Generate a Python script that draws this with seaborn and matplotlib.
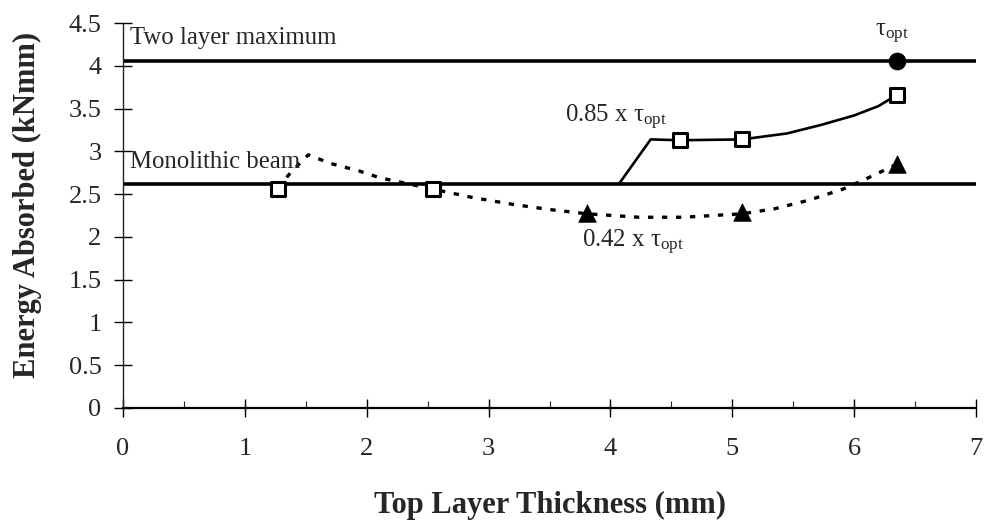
import numpy as np
import pandas as pd
import matplotlib
matplotlib.use("Agg")
import matplotlib.pyplot as plt
import seaborn as sns
from matplotlib.ticker import MultipleLocator

# ---- data ----
two_layer_max = 4.06
monolithic = 2.62

sq_x = [1.27, 2.54, 4.57, 5.08, 6.35]
sq_y = [2.56, 2.56, 3.13, 3.14, 3.66]

tri_x = [3.81, 5.08, 6.35]
tri_y = [2.28, 2.29, 2.85]

opt_x = [6.35]
opt_y = [4.06]

# traced path of the solid 0.85 x tau_opt curve
solid_x = [4.07, 4.33, 4.57, 5.08, 5.45, 5.73, 6.00, 6.20, 6.35]
solid_y = [2.62, 3.14, 3.13, 3.14, 3.21, 3.31, 3.42, 3.53, 3.66]

# traced path of the dotted 0.42 x tau_opt curve
dot_x = [1.27, 1.38, 1.52, 1.70, 1.94, 2.11, 2.31, 2.54, 2.87, 3.20, 3.50,
         3.81, 4.23, 4.60, 5.08, 5.35, 5.63, 5.91, 6.10, 6.35]
dot_y = [2.57, 2.76, 2.96, 2.86, 2.77, 2.69, 2.63, 2.56, 2.46, 2.38, 2.32,
         2.27, 2.23, 2.23, 2.27, 2.33, 2.43, 2.56, 2.68, 2.85]

x_ticks = [0, 1, 2, 3, 4, 5, 6, 7]
y_ticks = [0, 0.5, 1, 1.5, 2, 2.5, 3, 3.5, 4, 4.5]
y_ticklabels = ["0", "0.5", "1", "1.5", "2", "2.5", "3", "3.5", "4", "4.5"]

# ---- style ----
sns.set_style("ticks")
plt.rcParams["font.family"] = ["Liberation Serif", "DejaVu Serif"]
plt.rcParams["mathtext.fontset"] = "custom"
plt.rcParams["mathtext.rm"] = "Liberation Serif"
plt.rcParams["mathtext.it"] = "Liberation Serif:italic"

fig = plt.figure(figsize=(9.85, 5.23), dpi=100)
ax = fig.add_axes([0.1249, 0.2199, 0.866, 0.736])

# horizontal reference lines
ref = pd.DataFrame({"x": [0, 7, 0, 7], "y": [two_layer_max, two_layer_max, monolithic, monolithic],
                    "s": ["max", "max", "mono", "mono"]})
for s in ["max", "mono"]:
    sns.lineplot(data=ref[ref.s == s], x="x", y="y", ax=ax, color="black",
                 linewidth=2.6, sort=False, estimator=None, zorder=2)

# curves
sns.lineplot(x=solid_x, y=solid_y, ax=ax, color="black", linewidth=1.9,
             sort=False, estimator=None, zorder=3)
sns.lineplot(x=dot_x, y=dot_y, ax=ax, color="black", linewidth=2.4,
             sort=False, estimator=None, zorder=3, dashes=False)
ax.lines[-1].set_linestyle((0, (1.6, 2.6)))

# markers
sns.scatterplot(x=sq_x, y=sq_y, ax=ax, marker="s", s=115, facecolor="white",
                edgecolor="black", linewidth=2.2, zorder=5)
sns.scatterplot(x=tri_x, y=tri_y, ax=ax, marker="^", s=160, color="black",
                edgecolor="black", linewidth=0.5, zorder=5)
sns.scatterplot(x=opt_x, y=opt_y, ax=ax, marker="o", s=150, color="black",
                edgecolor="black", linewidth=0.5, zorder=5)

# annotations
fs = 17.8
ax.text(0.06, 4.32, "Two layer maximum", fontsize=fs, va="center", ha="left")
ax.text(0.06, 2.88, "Monolithic beam", fontsize=fs, va="center", ha="left")
ax.text(3.63, 3.40, r"0.85 x $\mathregular{\tau_{opt}}$", fontsize=fs, va="center", ha="left")
ax.text(3.77, 1.93, r"0.42 x $\mathregular{\tau_{opt}}$", fontsize=fs, va="center", ha="left")
ax.text(6.31, 4.37, r"$\mathregular{\tau_{opt}}$", fontsize=fs, va="center", ha="center")

# axes
ax.set_xlim(0, 7)
ax.set_ylim(0, 4.5)
ax.set_xticks(x_ticks)
ax.set_xticklabels([str(t) for t in x_ticks])
ax.set_yticks(y_ticks)
ax.set_yticklabels(y_ticklabels)
ax.xaxis.set_minor_locator(MultipleLocator(0.5))
ax.tick_params(axis="both", which="major", labelsize=19, direction="inout",
               length=13, width=1.0, color="black")
ax.tick_params(axis="x", which="major", pad=15)
ax.tick_params(axis="y", which="major", pad=9)
ax.tick_params(axis="x", which="minor", direction="in", length=5, width=0.8)
sns.despine(ax=ax, top=True, right=True)
ax.spines["left"].set_linewidth(1.0)
ax.spines["bottom"].set_linewidth(1.6)
ax.spines["left"].set_color("#222222")
ax.spines["bottom"].set_color("black")

ax.set_xlabel("Top Layer Thickness (mm)", fontsize=22, fontweight="bold")
ax.set_ylabel("Energy Absorbed (kNmm)", fontsize=22, fontweight="bold")
ax.xaxis.set_label_coords(0.5, -0.216)
ax.yaxis.set_label_coords(-0.095, 0.527)

fig.savefig("out.png", dpi=100)
